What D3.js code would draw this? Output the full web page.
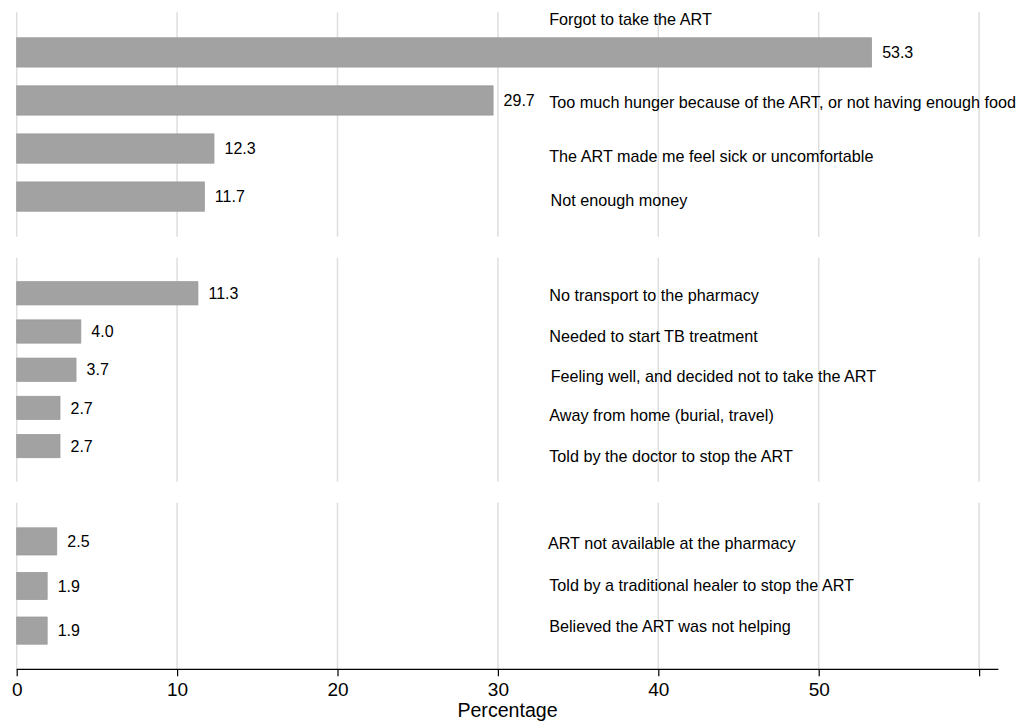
<!DOCTYPE html>
<html>
<head>
<meta charset="utf-8">
<script src="https://cdnjs.cloudflare.com/ajax/libs/d3/7.8.5/d3.min.js"></script>
<style>
  body { margin: 0; background: #fff; }
  text { font-family: "Liberation Sans", Arial, Helvetica, sans-serif; fill: #000; }
</style>
</head>
<body>
<div id="chart"></div>
<script>
// reasons for missing ART doses
var reasons = [
    "Forgot to take the ART",
    "Too much hunger because of the ART, or not having enough food",
    "The ART made me feel sick or uncomfortable",
    "Not enough money",
    "No transport to the pharmacy",
    "Needed to start TB treatment",
    "Feeling well, and decided not to take the ART",
    "Away from home (burial, travel)",
    "Told by the doctor to stop the ART",
    "ART not available at the pharmacy",
    "Told by a traditional healer to stop the ART",
    "Believed the ART was not helping"
];
var percents = [53.3, 29.7, 12.3, 11.7, 11.3, 4.0, 3.7, 2.7, 2.7, 2.5, 1.9, 1.9];
var groups = [0, 0, 0, 0, 1, 1, 1, 1, 1, 2, 2, 2];

var tickValues = [0, 10, 20, 30, 40, 50, 60];
var tickLabels = ["0", "10", "20", "30", "40", "50", ""];

var svgWidth = 1031;
var svgHeight = 721;

// panel layout (pixels) - three stacked plot regions sharing one x axis
var panels = [
    { top: 12.3, bottom: 236.7, outer: 0.53 },
    { top: 257.7, bottom: 481.7, outer: 0.627 },
    { top: 502.7, bottom: 669.3, outer: 0.563 }
];

// label placement tweaks: baseline offset from bar centre, and small x shift
var labelDy = [-27.3, 7.3, 13.3, 9, 7.3, 10.3, 12, 13.4, 16.4, 8, 4.5, 1.4];
var labelDx = [0, 0, 0, 1.3, 0, 0, 1.4, 0, 0, -1.3, 0, 0];
var labelCol = 33.2;

var rows = reasons.map(function(r, i) {
    return { reason: r, pct: percents[i], group: groups[i], idx: i };
});

var svg = d3.select("#chart")
    .append("svg")
    .attr("width", svgWidth)
    .attr("height", svgHeight);

var xScale = d3.scaleLinear()
    .domain([0, 60])
    .range([16.7, 979.1]);

var axisY = panels[2].bottom;

panels.forEach(function(p, gi) {
    var rowsHere = rows.filter(d => d.group === gi);

    var yBand = d3.scaleBand()
        .domain(rowsHere.map(d => d.reason))
        .range([p.top, p.bottom])
        .paddingInner(0.39)
        .paddingOuter(p.outer);

    var g = svg.append("g");

    // vertical grid lines
    g.selectAll("line.grid")
        .data(tickValues)
        .enter()
        .append("line")
        .attr("class", "grid")
        .attr("x1", d => xScale(d))
        .attr("x2", d => xScale(d))
        .attr("y1", p.top)
        .attr("y2", p.bottom)
        .attr("stroke", "#dedede")
        .attr("stroke-width", 1.5);

    g.selectAll("rect")
        .data(rowsHere)
        .enter()
        .append("rect")
        .attr("x", xScale(0))
        .attr("y", d => yBand(d.reason))
        .attr("width", d => xScale(d.pct) - xScale(0))
        .attr("height", yBand.bandwidth())
        .attr("fill", "#a2a2a2")
        .attr("stroke", "#979797")
        .attr("stroke-width", 0.7);

    g.selectAll("text.value")
        .data(rowsHere)
        .enter()
        .append("text")
        .attr("class", "value")
        .attr("x", d => xScale(d.pct) + 10.5)
        .attr("y", d => yBand(d.reason) + yBand.bandwidth() / 2)
        .attr("dy", "0.36em")
        .attr("font-size", "16px")
        .text(d => d.pct.toFixed(1));

    g.selectAll("text.reason")
        .data(rowsHere)
        .enter()
        .append("text")
        .attr("class", "reason")
        .attr("x", d => xScale(labelCol) + labelDx[d.idx])
        .attr("y", d => yBand(d.reason) + yBand.bandwidth() / 2 + labelDy[d.idx])
        .attr("font-size", "16.2px")
        .text(d => d.reason);
});

// x axis
var bottomAxis = d3.axisBottom(xScale)
    .tickValues(tickValues)
    .tickFormat((d, i) => tickLabels[i])
    .tickSize(7)
    .tickSizeOuter(0);

var axisG = svg.append("g")
    .attr("transform", `translate(0, ${axisY})`)
    .call(bottomAxis);

axisG.select(".domain").remove();
axisG.append("line")
    .attr("x1", xScale(0))
    .attr("x2", xScale(61.2))
    .attr("y1", 0)
    .attr("y2", 0)
    .attr("stroke", "#000")
    .attr("stroke-width", 1.2);
axisG.selectAll(".tick line")
    .attr("stroke", "#000")
    .attr("stroke-width", 1.2);
axisG.selectAll(".tick text")
    .attr("y", 26.4)
    .attr("dy", 0)
    .attr("font-size", "19px")
    .attr("font-family", "Liberation Sans, Arial, sans-serif")
    .attr("fill", "#000");

svg.append("text")
    .attr("x", (xScale(0) + xScale(61.2)) / 2)
    .attr("y", 717.3)
    .attr("text-anchor", "middle")
    .attr("font-size", "19.6px")
    .text("Percentage");
</script>
</body>
</html>
